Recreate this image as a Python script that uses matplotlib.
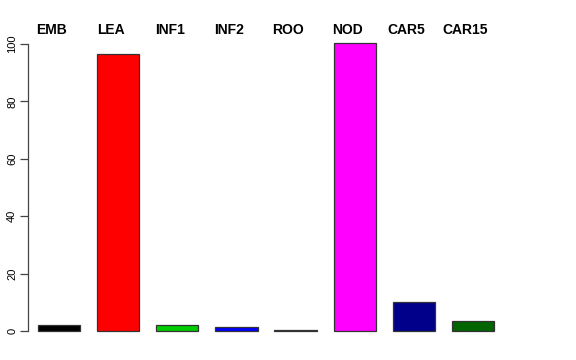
import matplotlib.pyplot as plt
import numpy as np

# tissue names and values
tissues = ["EMB", "LEA", "INF1", "INF2", "ROO", "NOD", "CAR5", "CAR15"]
values = [2.1, 96.5, 2.1, 1.4, 0.3, 100.3, 10.1, 3.5]
colors = ["black", "red", "#00CD00", "blue", "black", "magenta", "#00008B", "#006400"]
yticks = [0, 20, 40, 60, 80, 100]

plt.rcParams['font.family'] = ['Liberation Sans', 'DejaVu Sans']

fig = plt.figure(figsize=(5.76, 3.6), dpi=100)
ax = fig.add_axes([0.0486, 0.0486, 0.8264, 0.8636])

# barplot with width 1 and space 0.4
lefts = 0.4 + 1.4 * np.arange(len(values))
ax.bar(lefts, values, width=1.0, align='edge', color=colors,
       edgecolor='#333333', linewidth=0.9)

ax.set_xlim(0.164, 11.436)
ax.set_ylim(-4.01, 104.3)

for side in ['top', 'right', 'bottom']:
    ax.spines[side].set_visible(False)
ax.spines['left'].set_bounds(0, 100)
ax.spines['left'].set_color('#444444')
ax.spines['left'].set_linewidth(0.9)
ax.set_xticks([])
ax.set_yticks(yticks)
ax.set_yticklabels([str(v) for v in yticks], rotation=90, va='center', fontsize=8)
ax.tick_params(axis='y', length=5.8, width=0.9, color='#444444', pad=2)

# names above the bars
for x, name in zip(lefts + 0.32, tissues):
    ax.text(x, 103.4, name, ha='center', va='baseline', fontsize=10,
            fontweight='bold', clip_on=False)

fig.savefig("out.png", dpi=100)
